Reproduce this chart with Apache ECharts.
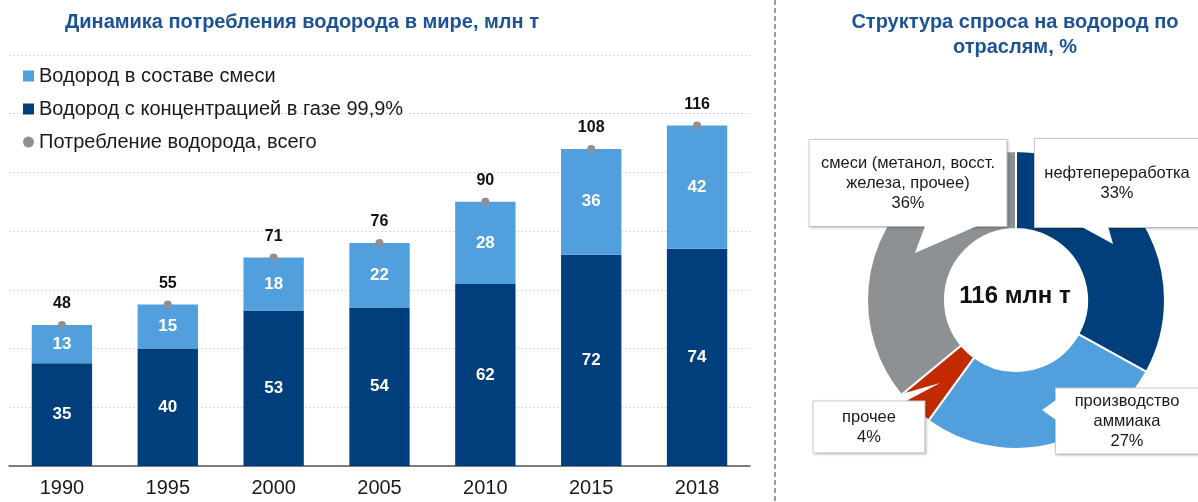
<!DOCTYPE html>
<html>
<head>
<meta charset="utf-8">
<script src="https://cdn.jsdelivr.net/npm/echarts@6/dist/echarts.min.js"></script>
<style>
html,body{margin:0;padding:0;background:#fff;}
#chart{width:1198px;height:502px;}
</style>
</head>
<body>
<div id="chart"></div>
<script>
// ---- data ----
var years = ['1990', '1995', '2000', '2005', '2010', '2015', '2018'];
var pureH2 = [35, 40, 53, 54, 62, 72, 74];      // Водород с концентрацией в газе 99,9%
var mixH2 = [13, 15, 18, 22, 28, 36, 42];       // Водород в составе смеси
var totalH2 = [48, 55, 71, 76, 90, 108, 116];   // Потребление водорода, всего
var sectorNames = ['нефтепереработка', 'производство\nаммиака', 'прочее', 'смеси (метанол, восст.\nжелеза, прочее)'];
var sectorShares = [33, 27, 4, 36];
var yTicks = [0, 20, 40, 60, 80, 100, 120, 140];

// ---- styles ----
var NAVY = '#003F7B', LBLUE = '#519FDC', GRAY = '#8E9194', RED = '#C22A00';
var TITLE_BLUE = '#1E5393';
var FONT = '"Liberation Sans", Arial, sans-serif';
var sectorColors = [NAVY, LBLUE, RED, GRAY];
var calloutCenter = [[1117, 183], [1127, 421], [869, 427], [908, 183]];
var calloutBox = [
  {width: 164, padding: [24, 0, 24, 0]},
  {width: 142, padding: [5, 0, 0, 0]},
  {width: 111, padding: [5, 0, 6, 0]},
  {width: 197, padding: [13, 0, 13, 0]}
];
// callout pointer wedges (decoration)
var calloutPointers = [
  [[1080, 226], [1113, 244], [1108, 226]],
  [[1056, 400], [1042, 410], [1056, 420]],
  [[880, 400], [940, 383], [908, 400]],
  [[925, 226], [915, 253], [977, 226]]
];

var chart = echarts.init(document.getElementById('chart'));

var pieData = sectorNames.map(function (n, i) {
  return {
    name: n, value: sectorShares[i],
    itemStyle: {color: sectorColors[i]},
    label: calloutBox[i]
  };
});

var graphics = [
  {type: 'text', x: 302, y: 22, style: {text: 'Динамика потребления водорода в мире, млн т', fill: TITLE_BLUE,
    font: 'bold 20px ' + FONT, textAlign: 'center', textVerticalAlign: 'middle'}},
  {type: 'text', x: 1015, y: 35, style: {text: 'Структура спроса на водород по\nотраслям, %', fill: TITLE_BLUE,
    font: 'bold 20px ' + FONT, textAlign: 'center', textVerticalAlign: 'middle', lineHeight: 25}},
  {type: 'text', x: 1015, y: 296, z: 10, style: {text: totalH2[totalH2.length - 1] + ' млн т', fill: '#111',
    font: 'bold 24px ' + FONT, textAlign: 'center', textVerticalAlign: 'middle'}},
  {type: 'line', shape: {x1: 775, y1: 0, x2: 775, y2: 502}, style: {stroke: '#9a9a9a', lineWidth: 2, lineDash: [5, 3]}}
];
calloutPointers.forEach(function (pts) {
  graphics.push({type: 'polygon', z: 100, shape: {points: pts}, style: {fill: '#fff', stroke: null}});
});

var option = {
  animation: false,
  legend: {
    orient: 'vertical',
    left: 18, top: 61,
    itemWidth: 11, itemHeight: 11, itemGap: 13,
    textStyle: {fontSize: 20, color: '#1a1a1a', fontFamily: FONT},
    data: [
      {name: 'Водород в составе смеси', icon: 'rect'},
      {name: 'Водород с концентрацией в газе 99,9%', icon: 'rect'},
      {name: 'Потребление водорода, всего', icon: 'circle'}
    ]
  },
  grid: {left: 9, right: 448, top: 55, bottom: 36, containLabel: false},
  xAxis: {
    type: 'category', data: years,
    axisTick: {show: false},
    axisLine: {lineStyle: {color: '#555', width: 1.5}},
    axisLabel: {fontSize: 20, color: '#1a1a1a', fontFamily: FONT, margin: 12}
  },
  yAxis: {
    type: 'value', min: yTicks[0], max: yTicks[yTicks.length - 1], interval: yTicks[1] - yTicks[0],
    axisLabel: {show: false}, axisLine: {show: false}, axisTick: {show: false},
    splitLine: {lineStyle: {color: '#d9d9d9', type: [2, 2], width: 1}}
  },
  series: [
    {
      name: 'Водород с концентрацией в газе 99,9%', type: 'bar', stack: 'h2',
      data: pureH2, barWidth: '57%',
      itemStyle: {color: NAVY},
      label: {show: true, position: 'inside', color: '#fff', fontWeight: 'bold', fontSize: 17, fontFamily: FONT}
    },
    {
      name: 'Водород в составе смеси', type: 'bar', stack: 'h2',
      data: mixH2, barWidth: '57%',
      itemStyle: {color: LBLUE},
      label: {show: true, position: 'inside', color: '#fff', fontWeight: 'bold', fontSize: 17, fontFamily: FONT}
    },
    {
      name: 'Потребление водорода, всего', type: 'line',
      data: totalH2,
      symbol: 'circle', symbolSize: 8,
      lineStyle: {width: 0, opacity: 0},
      itemStyle: {color: GRAY},
      z: 5,
      label: {show: true, position: 'top', distance: 9, color: '#111', fontWeight: 'bold', fontSize: 16, fontFamily: FONT}
    },
    {
      name: 'Структура', type: 'pie',
      center: [1016, 300], radius: [71, 149],
      startAngle: 90, clockwise: true,
      avoidLabelOverlap: false,
      itemStyle: {borderColor: '#fff', borderWidth: 2},
      label: {
        show: true, position: 'outside',
        formatter: '{b}\n{c}%',
        fontSize: 16.5, lineHeight: 20, color: '#1a1a1a', fontFamily: FONT,
        align: 'center',
        backgroundColor: '#fff', borderColor: '#cfcfcf', borderWidth: 1,
        shadowColor: 'rgba(0,0,0,0.18)', shadowBlur: 3, shadowOffsetX: 1, shadowOffsetY: 1
      },
      labelLine: {show: false},
      labelLayout: function (p) {
        var c = calloutCenter[p.dataIndex];
        return {x: c[0], y: c[1], align: 'center', verticalAlign: 'middle'};
      },
      emphasis: {disabled: true},
      data: pieData
    }
  ],
  graphic: graphics
};
chart.setOption(option);
</script>
</body>
</html>
